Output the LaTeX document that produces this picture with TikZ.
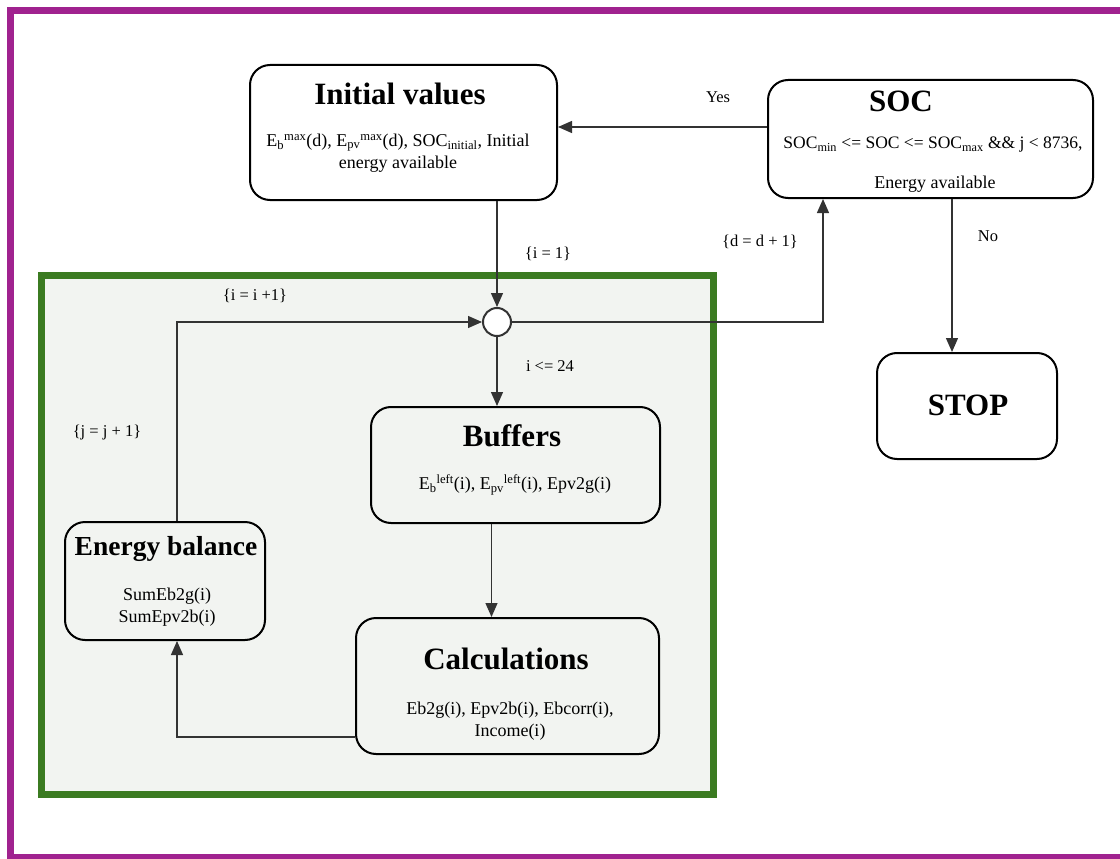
\documentclass[tikz,border=0pt]{standalone}
\usepackage{fontspec}
\setmainfont{Liberation Serif}
\usepackage{tikz}
\usetikzlibrary{arrows.meta}
\definecolor{framepurple}{HTML}{A0228F}
\definecolor{loopgreen}{HTML}{3B7B21}
\definecolor{loopbg}{HTML}{F2F4F1}
\definecolor{wire}{HTML}{333333}

\begin{document}
\begin{tikzpicture}[x=1pt,y=-1pt]
\tikzstyle{blk}=[rectangle,rounded corners=20pt,draw=black,line width=2pt,fill=white,inner sep=0pt]
\tikzstyle{inblk}=[blk,fill=loopbg]
\tikzstyle{title}=[inner sep=0pt,font=\fontsize{31}{34}\selectfont\bfseries]
\tikzstyle{body}=[inner sep=0pt,align=center,font=\fontsize{18}{22}\selectfont]
\tikzstyle{lbl}=[inner sep=0pt,font=\fontsize{16.5}{19}\selectfont]
\tikzstyle{arr}=[draw=wire,line width=1.3pt,-{Triangle[length=14pt,width=12pt]}]
\useasboundingbox[fill=white] (0,0) rectangle (1120,859);
\draw[framepurple,line width=7pt] (10,11) rectangle (1140,857);
\draw[loopgreen,fill=loopbg,line width=7pt] (41,275) rectangle (713,794);
\node [blk,minimum width=307pt,minimum height=135pt] (ini) at (403.5,132.5) {};
\node [blk,minimum width=325pt,minimum height=118pt] (soc) at (930.5,139) {};
\node [blk,minimum width=180pt,minimum height=106pt] (stop) at (967,406) {};
\node [inblk,minimum width=289pt,minimum height=116pt] (buf) at (515.5,465) {};
\node [inblk,minimum width=200pt,minimum height=118pt] (bal) at (165,581) {};
\node [inblk,minimum width=303pt,minimum height=136pt] (calc) at (507.5,686) {};
\node [circle,draw=wire,line width=2pt,fill=white,minimum size=28pt,inner sep=0pt] (circ) at (497,322) {};
\node [title] (initt) at (400,94) {Initial values};
\node [body] (inib) at (398,153) {E\textsubscript{b}\textsuperscript{max}(d), E\textsubscript{pv}\textsuperscript{max}(d), SOC\textsubscript{initial}, Initial\\energy available};
\node [title] (soct) at (901,101) {SOC};
\node [body,font=\fontsize{17.5}{21}\selectfont] (socb1) at (933,145) {SOC\textsubscript{min} <= SOC <= SOC\textsubscript{max} \&\& j < 8736,};
\node [body] (socb2) at (935,184) {Energy available};
\node [title] (stopt) at (968,405) {STOP};
\node [title] (buft) at (512,436) {Buffers};
\node [body] (bufb) at (515,485) {E\textsubscript{b}\textsuperscript{left}(i), E\textsubscript{pv}\textsuperscript{left}(i), Epv2g(i)};
\node [title,font=\fontsize{27.5}{30}\selectfont\bfseries] (balt) at (166,549) {Energy balance};
\node [body] (balb) at (167,607) {SumEb2g(i)\\SumEpv2b(i)};
\node [title] (calct) at (506,659) {Calculations};
\node [body] (calcb) at (510,721) {Eb2g(i), Epv2b(i), Ebcorr(i),\\Income(i)};
\node [lbl] (yes) at (718,97) {Yes};
\node [lbl] (no) at (988,236) {No};
\node [lbl] (ione) at (548,254) {\{i = 1\}};
\node [lbl] (dinc) at (760,242) {\{d = d + 1\}};
\node [lbl] (ilim) at (550,366) {i <= 24};
\node [lbl] (iinc) at (255,296) {\{i = i +1\}};
\node [lbl] (jinc) at (107,433) {\{j = j + 1\}};
\draw [arr] (circ |- ini.south) -- (circ.north);
\draw [arr] (circ.east) -| ([xshift=56pt]soc.south west);
\draw [arr] ([yshift=12pt]soc.west) -- ([yshift=12pt]soc.west -| ini.east);
\draw [arr] ([xshift=-15pt]stop.north |- soc.south) -- ([xshift=-15pt]stop.north);
\draw [arr] (circ.south) -- (circ |- buf.north);
\draw [arr] ([xshift=-24pt]buf.south) -- ([xshift=-24pt]buf.south |- calc.north);
\draw [arr] ([yshift=-51pt]calc.west) -| ([xshift=12pt]bal.south);
\draw [arr] ([xshift=12pt]bal.north) |- (circ.west);
\end{tikzpicture}
\end{document}
